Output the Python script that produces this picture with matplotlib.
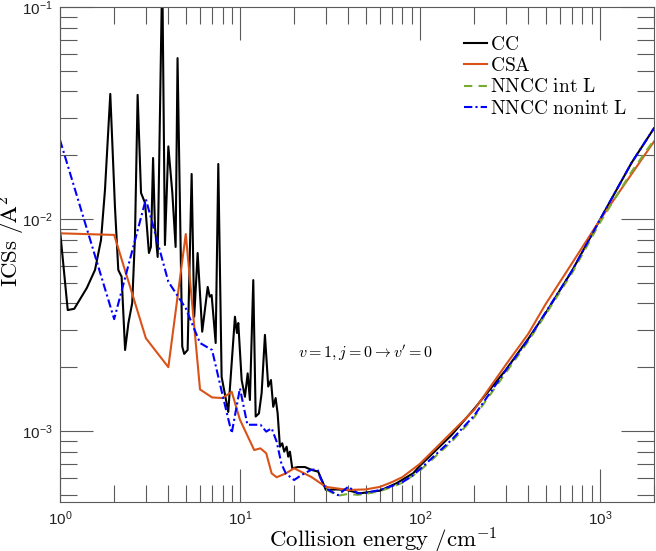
import matplotlib
matplotlib.use("Agg")
import matplotlib.pyplot as plt
from matplotlib.ticker import LogLocator, LogFormatterMathtext, NullFormatter
from matplotlib.font_manager import FontProperties

# ── data ─────────────────────────────────────────────────────────────────────
cc_energy = [1.00, 1.104, 1.20, 1.41, 1.565, 1.69, 1.778, 1.903, 2.02, 2.108,
             2.20, 2.30, 2.40, 2.52, 2.61, 2.70, 2.82, 2.97, 3.12, 3.20,
             3.29, 3.37, 3.49, 3.70, 3.83, 4.00, 4.21, 4.39, 4.50, 4.78,
             4.90, 5.12, 5.39, 5.57, 5.82, 6.17, 6.62, 6.79, 6.96, 7.33,
             7.58, 7.91, 8.61, 9.38, 9.62, 9.79, 10.22, 10.66, 11.04, 11.36,
             11.86, 12.23, 12.75, 13.20, 13.77, 14.36, 14.87, 15.31, 15.79, 16.20,
             16.68, 17.18, 17.62, 18.17, 18.55, 18.96, 19.53, 21.0, 22.97, 25.02,
             27.2, 29.0, 30.0, 34.4, 39.2, 46.4, 60.0, 74.2, 91.8, 100.0,
             150.0, 200.0, 300.0, 400.0, 500.0, 700.0, 1000.0, 1500.0, 2000.0]
cc_ics = [8.87e-3, 3.72e-3, 3.77e-3, 4.73e-3, 5.75e-3, 7.96e-3, 1.37e-2, 3.89e-2, 1.143e-2, 5.75e-3,
          5.34e-3, 2.41e-3, 3.23e-3, 4.02e-3, 8.22e-3, 3.85e-2, 1.327e-2, 1.19e-2, 6.91e-3, 7.38e-3,
          1.94e-2, 9.17e-3, 6.62e-3, 1.50e-1, 7.54e-3, 2.20e-2, 1.327e-2, 7.38e-3, 5.74e-2, 2.50e-3,
          2.31e-3, 2.41e-3, 1.63e-2, 3.46e-3, 6.91e-3, 2.94e-3, 4.78e-3, 4.30e-3, 4.38e-3, 2.60e-3,
          1.817e-2, 1.80e-3, 1.23e-3, 3.46e-3, 2.90e-3, 3.23e-3, 1.74e-3, 1.45e-3, 1.87e-3, 1.40e-3,
          5.15e-3, 1.17e-3, 1.21e-3, 1.51e-3, 2.84e-3, 1.62e-3, 1.74e-3, 1.30e-3, 1.43e-3, 1.21e-3,
          8.43e-4, 8.75e-4, 7.99e-4, 8.43e-4, 7.56e-4, 7.99e-4, 6.67e-4, 6.76e-4, 6.76e-4, 6.55e-4,
          6.43e-4, 5.67e-4, 5.27e-4, 5.30e-4, 5.27e-4, 5.08e-4, 5.23e-4, 5.67e-4, 6.32e-4, 6.85e-4,
          9.57e-4, 1.27e-3, 1.94e-3, 2.72e-3, 3.60e-3, 5.69e-3, 9.90e-3, 1.84e-2, 2.68e-2]

csa_energy = [1, 2, 3, 4, 5, 6, 7, 8, 9, 10, 12, 13, 14, 15, 16, 18, 20, 25, 30,
              40, 50, 60, 70, 80, 100, 200, 300, 400, 500, 1000, 2000]
csa_ics = [8.56e-3, 8.41e-3, 2.74e-3, 2.00e-3, 8.49e-3, 1.57e-3, 1.44e-3, 1.43e-3, 1.53e-3,
           1.13e-3, 8.13e-4, 8.28e-4, 7.85e-4, 6.31e-4, 6.05e-4, 6.31e-4, 6.67e-4, 6.06e-4,
           5.45e-4, 5.27e-4, 5.30e-4, 5.45e-4, 5.74e-4, 6.06e-4, 7.00e-4, 1.256e-3, 2.05e-3,
           2.87e-3, 3.97e-3, 9.88e-3, 2.32e-2]

nncc_int_energy = [30, 35, 40, 45, 50, 60, 70, 80, 100, 150, 200, 300, 400, 500,
                   700, 1000, 1500, 2000]
nncc_int_ics = [5.30e-4, 4.95e-4, 5.05e-4, 5.00e-4, 5.05e-4, 5.20e-4, 5.45e-4, 5.70e-4,
                6.50e-4, 8.90e-4, 1.16e-3, 1.88e-3, 2.65e-3, 3.55e-3, 5.55e-3, 9.60e-3,
                1.67e-2, 2.36e-2]

nncc_nonint_energy = [1, 2, 3, 4, 5, 6, 7, 8, 9, 10, 11, 12, 13, 14, 15, 16, 17, 18,
                      20, 22, 25, 27, 28, 30, 35, 40, 45, 50, 60, 70, 80, 90, 100,
                      150, 200, 300, 400, 500, 700, 1000, 1500, 2000]
nncc_nonint_ics = [2.36e-2, 3.37e-3, 1.24e-2, 5.06e-3, 3.79e-3, 2.60e-3, 2.41e-3, 1.48e-3,
                   9.76e-4, 1.59e-3, 1.07e-3, 1.07e-3, 1.07e-3, 9.93e-4, 1.03e-3, 8.90e-4,
                   7.00e-4, 6.30e-4, 5.87e-4, 6.20e-4, 6.57e-4, 6.57e-4, 6.00e-4, 5.36e-4,
                   4.98e-4, 5.46e-4, 5.08e-4, 5.10e-4, 5.27e-4, 5.50e-4, 5.74e-4, 6.10e-4,
                   6.60e-4, 9.08e-4, 1.18e-3, 1.93e-3, 2.70e-3, 3.63e-3, 5.69e-3, 9.90e-3,
                   1.84e-2, 2.68e-2]

# MATLAB-ish palette
C_CC = "#000000"
C_CSA = "#D95319"
C_INT = "#77AC30"
C_NONINT = "#0000FF"
AXCOL = "#5a5a5a"

plt.rcParams["mathtext.fontset"] = "custom"
plt.rcParams["mathtext.rm"] = "Liberation Sans"
plt.rcParams["mathtext.it"] = "Liberation Sans:italic"
plt.rcParams["mathtext.bf"] = "Liberation Sans:bold"
plt.rcParams["font.family"] = ["Liberation Sans", "DejaVu Sans"]

fig = plt.figure(figsize=(6.56, 5.51), dpi=100)
ax = fig.add_axes([60 / 656, 1 - 502 / 551, 594 / 656, 495 / 551])

ax.plot(cc_energy, cc_ics, color=C_CC, lw=1.5, label=r"$\mathrm{CC}$")
ax.plot(csa_energy, csa_ics, color=C_CSA, lw=1.5, label=r"$\mathrm{CSA}$")
ax.plot(nncc_int_energy, nncc_int_ics, color=C_INT, lw=1.5, ls=(0, (4, 3)),
        label=r"$\mathrm{NNCC\ int\ L}$")
ax.plot(nncc_nonint_energy, nncc_nonint_ics, color=C_NONINT, lw=1.5,
        ls=(0, (4, 1.5, 1, 1.5)), label=r"$\mathrm{NNCC\ nonint\ L}$")

ax.set_xscale("log")
ax.set_yscale("log")
ax.set_xlim(1, 2000)
ax.set_ylim(10 ** -3.335, 0.1)

for a in (ax.xaxis, ax.yaxis):
    a.set_major_locator(LogLocator(base=10))
    a.set_minor_locator(LogLocator(base=10, subs=range(2, 10)))
    a.set_major_formatter(LogFormatterMathtext())
    a.set_minor_formatter(NullFormatter())

ax.tick_params(which="both", direction="in", top=True, right=True,
               color=AXCOL, labelsize=11, labelcolor="#222222")
ax.tick_params(which="major", length=24, width=0.8, pad=5)
ax.tick_params(which="minor", length=12, width=0.8)
for sp in ax.spines.values():
    sp.set_color(AXCOL)
    sp.set_linewidth(0.8)

lab = FontProperties(size=16.5, math_fontfamily="cm")
ax.set_xlabel(r"$\mathrm{Collision\ energy\ /cm^{-1}}$", fontproperties=lab)
ax.xaxis.set_label_coords(0.544, -0.047)
ax.set_ylabel(r"$\mathrm{ICSs\ /\AA^2}$", fontproperties=lab)
ax.yaxis.set_label_coords(-0.0595, 0.526)

ax.text(0.4007, 0.303, r"$v=1, j=0 \rightarrow v^{\prime}=0$",
        transform=ax.transAxes, ha="left", va="center",
        fontproperties=FontProperties(size=11.5, math_fontfamily="cm"))

leg = ax.legend(loc="upper left", bbox_to_anchor=(0.68, 0.942), frameon=False,
                prop=FontProperties(size=14, math_fontfamily="cm"),
                handlelength=1.2, handletextpad=0.12, labelspacing=0.17,
                borderaxespad=0.0, borderpad=0.0)

fig.savefig("out.png", dpi=100)
